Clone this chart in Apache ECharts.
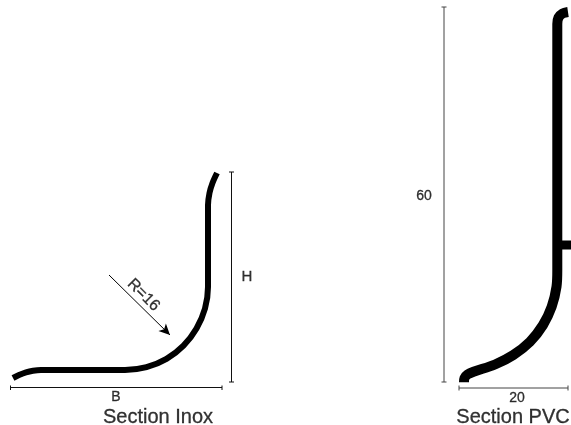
<!DOCTYPE html>
<html><head><meta charset="utf-8">
<style>html,body{margin:0;padding:0;background:#fff}#c{width:571px;height:425px}</style>
<script src="https://cdn.jsdelivr.net/npm/echarts@6/dist/echarts.min.js"></script>
</head><body><div id="c"></div>
<script>
const inoxProfile = [[13,378],[19,375],[26,372.3],[33,370.7],[41,370],[60,370],[85,370],[105,370],[125,370],[146.5,367.2],[166.5,358.9],[183.5,345.7],[196.5,328.5],[205,308.5],[208,287],[208,265],[208,235],[208,205],[209.5,193],[212.5,183],[217,173]];
const pvcProfile = [[568,12],[562.5,13.5],[558.5,17.5],[557.3,24],[557.3,60],[557.3,120],[557.3,200],[557.3,270],[556.5,286.7],[551.7,306.7],[543,325],[530,341.7],[513.3,355],[495,364.5],[473.5,371.7],[467.5,374.5],[464.5,378],[464,382.3]];
const pvcStub = [[557,245],[571,245]];
const dimH = [[231.5,172],[231.5,382]], dimHTicks = [[[229,172],[234,172]],[[229,382],[234,382]]];
const dimB = [[10.5,387.5],[222,387.5]], dimBTicks = [[[10.5,385.5],[10.5,390]],[[222,385.5],[222,390]]];
const dim60 = [[444,7],[444,382]], dim60Ticks = [[[441.5,7],[446.5,7]],[[441.5,382],[446.5,382]]];
const dim20 = [[459,388],[568,388]], dim20Ticks = [[[459,385.5],[459,390.5]],[[568,385.5],[568,390.5]]];
const radiusArrow = [[109,275],[170,335]];
const labels = [
 {t:'H',p:[247,277],s:15,r:0},{t:'B',p:[116,397],s:14,r:0},{t:'R=16',p:[143.5,295],s:16,r:-45},
 {t:'60',p:[424,196],s:14,r:0},{t:'20',p:[517,398],s:14,r:0},
 {t:'Section Inox',p:[158,417],s:20,r:0},{t:'Section PVC',p:[513,417],s:20,r:0}
];
const FONT='"Liberation Sans"';
const line=(data,w,c,smooth)=>({type:'line',data,symbol:'none',smooth:smooth||false,silent:true,animation:false,clip:true,
  lineStyle:{width:w,color:c,cap:'butt',join:'round'}});
const series=[
 line(inoxProfile,6,'#000',0.33),
 line(pvcProfile,10,'#000',0.33),
 line(pvcStub,9,'#000'),
 ...[dimH,...dimHTicks,dimB,...dimBTicks].map(d=>line(d,1,'#111')),
 ...[dim60,...dim60Ticks,dim20,...dim20Ticks].map(d=>line(d,1,'#444')),
 {type:'line',data:[],silent:true,markLine:{silent:true,animation:false,symbol:['none','arrow'],symbolSize:[8,11],label:{show:false},
   lineStyle:{type:'solid',color:'#000',width:1},data:[[{coord:radiusArrow[0]},{coord:radiusArrow[1]}]]}},
 {type:'scatter',silent:true,animation:false,symbolSize:0,data:labels.map(l=>({value:l.p,label:{show:true,position:'inside',formatter:l.t,fontSize:l.s,rotate:l.r,color:'#000',fontFamily:FONT,textBorderColor:'#000',textBorderWidth:0.3}}))}
];
const chart=echarts.init(document.getElementById('c'),null,{renderer:'canvas'});
chart.setOption({animation:false,backgroundColor:'#fff',
 grid:{left:0,right:0,top:0,bottom:0},
 xAxis:{type:'value',min:0,max:571,show:false},
 yAxis:{type:'value',min:0,max:425,inverse:true,show:false},
 series});
</script></body></html>
